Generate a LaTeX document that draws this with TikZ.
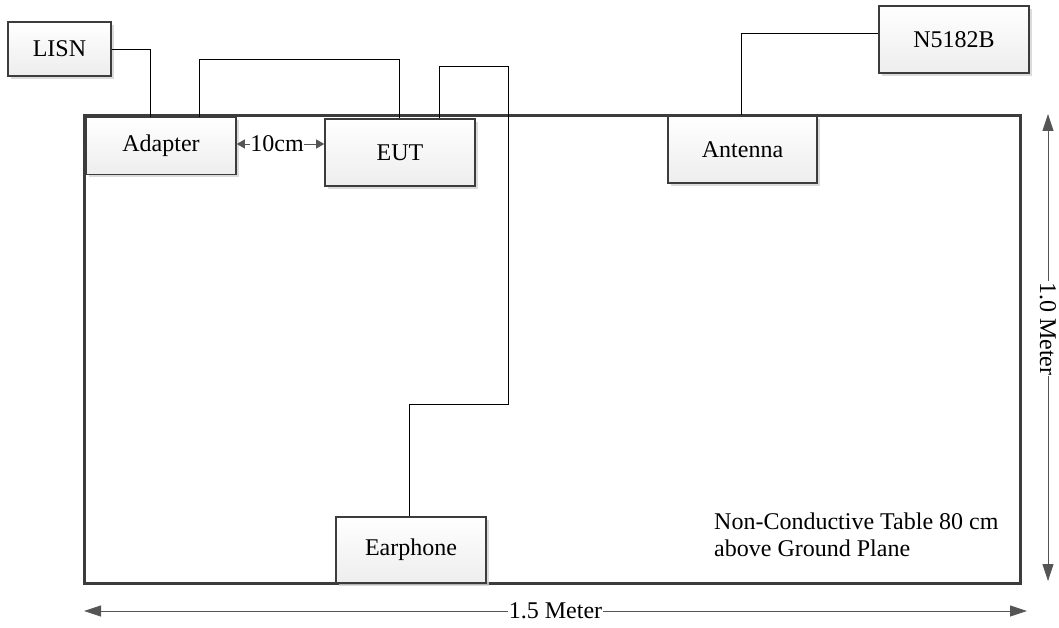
\documentclass[tikz,border=0pt]{standalone}
\usepackage{fontspec}
\setmainfont{Liberation Serif}
\usetikzlibrary{arrows.meta,shadows,calc}
\definecolor{edge}{HTML}{3C3C3C}
\definecolor{dim}{HTML}{555555}
\tikzset{
  unit/.style={draw=edge, line width=1.6pt, top color=white, bottom color=gray!14,
    drop shadow={shadow xshift=3pt, shadow yshift=-3pt, fill=gray!35, opacity=0.8},
    inner sep=0pt, font=\fontsize{24}{27}\selectfont},
  wire/.style={draw=black, line width=0.8pt},
  dimline/.style={draw=dim, line width=0.8pt, {Triangle[length=17pt,width=11pt]}-{Triangle[length=17pt,width=11pt]}},
  smalldim/.style={draw=dim, line width=0.8pt, {Triangle[length=8pt,width=9pt]}-{Triangle[length=8pt,width=9pt]}},
  lbl/.style={font=\fontsize{24}{27}\selectfont, inner sep=1pt},
  table/.style={draw=edge, line width=3pt}
}
\begin{document}
\begin{tikzpicture}[x=1pt,y=-1pt]
\useasboundingbox (0,0) rectangle (1059,628);
% table
\draw[table] (84,116) rectangle (1020,583);
% units
\node[unit, minimum width=103pt, minimum height=54pt] (lisn) at (59.5,49) {LISN};
\node[unit, minimum width=150pt, minimum height=57pt] (adapter) at (161,146) {Adapter};
\node[unit, minimum width=150pt, minimum height=67pt] (eut) at (400,152.5) {EUT};
\node[unit, minimum width=149pt, minimum height=67pt] (antenna) at (742.5,149.5) {Antenna};
\node[unit, minimum width=150pt, minimum height=67pt] (n5182b) at (954,39.5) {N5182B};
\node[unit, minimum width=150pt, minimum height=66pt] (earphone) at (411,550) {Earphone};
% wires
\coordinate (bend) at (508,404);
\draw[wire] (lisn.east) -| ([xshift=65pt]adapter.north west);
\draw[wire] ([xshift=114pt]adapter.north west) -- ++(0,-57) -| ([xshift=75pt]eut.north west);
\draw[wire] ([xshift=115pt]eut.north west) -- ++(0,-52) -| (bend) -| ([xshift=74pt]earphone.north west);
\draw[wire] ([yshift=6pt]n5182b.west) -| ([xshift=74pt]antenna.north west);
% 10cm
\coordinate (tenl) at ([yshift=2pt]adapter.east);
\draw[smalldim] (tenl) -- (eut.west |- tenl);
\node[lbl, fill=white, inner sep=0pt] (ten) at (277,144) {10cm};
% dimensions
\coordinate (rt) at (1048,114);
\coordinate (rb) at (1048,581);
\draw[dimline] (rt) -- (rb) node[pos=0.46, lbl, fill=white, rotate=-90] (onem) {1.0 Meter};
\coordinate (bl) at (84,611);
\coordinate (br) at (1027,611);
\draw[dimline] (bl) -- (br) node[pos=0.5, lbl, fill=white] (onefive) {1.5 Meter};
% note
\node[lbl, anchor=base west, align=left] (note) at (713,556) {Non-Conductive Table 80 cm\\above Ground Plane};
\end{tikzpicture}
\end{document}
